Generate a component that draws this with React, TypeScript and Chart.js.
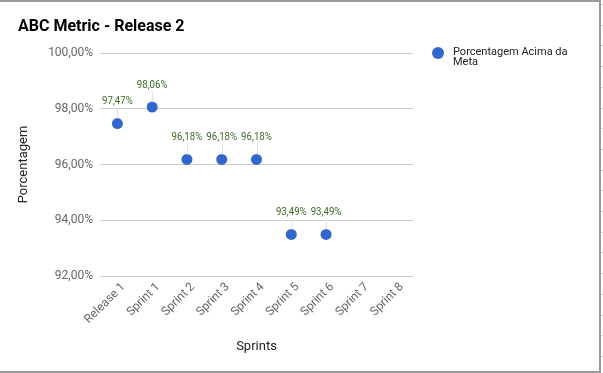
import React, { useEffect, useRef } from "react";
import { Chart, registerables } from "chart.js";

Chart.register(...registerables);

const categories = ["Release 1", "Sprint 1", "Sprint 2", "Sprint 3", "Sprint 4", "Sprint 5", "Sprint 6", "Sprint 7", "Sprint 8"];
const values: (number | null)[] = [97.47, 98.06, 96.18, 96.18, 96.18, 93.49, 93.49, null, null];
const yTicks = [92, 94, 96, 98, 100];
const titleText = "ABC Metric - Release 2";
const seriesName = "Porcentagem Acima da Meta";
const legendLines = ["Porcentagem Acima da", "Meta"];
const xTitle = "Sprints";
const yTitle = "Porcentagem";

const FONT = "Roboto";
const fmt = (v: number) => v.toFixed(2).replace(".", ",") + "%";

const decor = {
  id: "decor",
  afterDatasetsDraw(chart: any) {
    const ctx = chart.ctx as CanvasRenderingContext2D;
    const meta = chart.getDatasetMeta(0);
    const xs = chart.scales.x;
    ctx.save();
    // x tick labels, rotated
    categories.forEach((c, i) => {
      const x = xs.getPixelForValue(i);
      ctx.save();
      ctx.translate(x + 6, 285);
      ctx.rotate(-Math.PI / 4);
      ctx.font = `12px ${FONT}`;
      ctx.fillStyle = "#666";
      ctx.textAlign = "right";
      ctx.textBaseline = "middle";
      ctx.fillText(c, 0, 0);
      ctx.restore();
    });
    // data labels with leader lines
    meta.data.forEach((pt: any, i: number) => {
      const v = values[i];
      if (v == null) return;
      const x = pt.x;
      const y = pt.y;
      ctx.strokeStyle = "#e0e0e0";
      ctx.lineWidth = 1;
      ctx.beginPath();
      ctx.moveTo(Math.round(x) + 0.5, y - 15);
      ctx.lineTo(Math.round(x) + 0.5, y - 5);
      ctx.stroke();
      ctx.save();
      ctx.translate(x, y - 22);
      ctx.scale(0.88, 1);
      ctx.fillStyle = "#3c6b27";
      ctx.font = `11px ${FONT}`;
      ctx.textAlign = "center";
      ctx.textBaseline = "middle";
      ctx.fillText(fmt(v), 0, 0);
      ctx.restore();
    });
    ctx.restore();
  },
  afterDraw(chart: any) {
    const ctx = chart.ctx as CanvasRenderingContext2D;
    const ca = chart.chartArea;
    ctx.save();
    // title
    ctx.fillStyle = "#000";
    ctx.font = `bold 16px ${FONT}`;
    ctx.textAlign = "left";
    ctx.textBaseline = "middle";
    ctx.fillText(titleText, 18, 27);
    // y axis title
    ctx.save();
    ctx.translate(24, (ca.top + ca.bottom) / 2);
    ctx.rotate(-Math.PI / 2);
    ctx.font = `13px ${FONT}`;
    ctx.fillStyle = "#222";
    ctx.textAlign = "center";
    ctx.textBaseline = "middle";
    ctx.fillText(yTitle, 0, 0);
    ctx.restore();
    // x axis title
    ctx.font = `13px ${FONT}`;
    ctx.fillStyle = "#222";
    ctx.textAlign = "center";
    ctx.textBaseline = "middle";
    ctx.fillText(xTitle, (ca.left + ca.right) / 2, 347);
    // legend
    ctx.fillStyle = "#3366cc";
    ctx.beginPath();
    ctx.arc(438, 53, 6, 0, Math.PI * 2);
    ctx.fill();
    ctx.fillStyle = "#222";
    ctx.font = `11px ${FONT}`;
    ctx.textAlign = "left";
    legendLines.forEach((l, i) => ctx.fillText(l, 453, 52 + i * 10));
    // frame
    ctx.fillStyle = "#9a9a9a";
    ctx.fillRect(0, 0, 600, 2);
    ctx.fillRect(599, 0, 2, 373);
    ctx.fillRect(0, 371, 600, 2);
    ctx.fillStyle = "#cfcfcf";
    for (let k = 0; k < 18; k++) {
      const yy = Math.round(4 + k * 20.7);
      ctx.fillRect(601, yy, 2, 1);
    }
    ctx.restore();
  },
};

export default function App() {
  const ref = useRef<HTMLCanvasElement>(null);
  useEffect(() => {
    if (!ref.current) return;
    const chart = new Chart(ref.current, {
      type: "scatter" as any,
      data: {
        labels: categories,
        datasets: [
          {
            label: seriesName,
            data: values as any,
            showLine: false,
            pointRadius: 5.5,
            pointHoverRadius: 5.5,
            pointBackgroundColor: "#3366cc",
            pointBorderColor: "#3366cc",
            pointBorderWidth: 0,
          },
        ],
      },
      plugins: [decor],
      options: {
        animation: false,
        responsive: false,
        maintainAspectRatio: false,
        layout: { padding: { top: 53, right: 190, left: 0, bottom: 0 } },
        plugins: { legend: { display: false }, title: { display: false }, tooltip: { enabled: false } },
        scales: {
          x: {
            type: "category",
            labels: categories,
            offset: true,
            grid: { display: false },
            border: { display: false },
            ticks: { display: false },
            afterFit: (s: any) => {
              s.height = 97;
            },
          },
          y: {
            type: "linear",
            min: 92,
            max: 100,
            afterBuildTicks: (s: any) => {
              s.ticks = yTicks.map((v) => ({ value: v }));
            },
            grid: { color: "#cccccc", drawTicks: false },
            border: { display: false },
            ticks: {
              color: "#666",
              font: { family: FONT, size: 12 },
              padding: 7,
              callback: (v: any) => fmt(Number(v)),
            },
            afterFit: (s: any) => {
              s.width = 100;
            },
          },
        },
      } as any,
    });
    return () => chart.destroy();
  }, []);
  return (
    <div style={{ position: "absolute", left: 0, top: 0, width: 603, height: 373 }}>
      <canvas ref={ref} width={603} height={373} style={{ display: "block", background: "#fff" }} />
    </div>
  );
}
